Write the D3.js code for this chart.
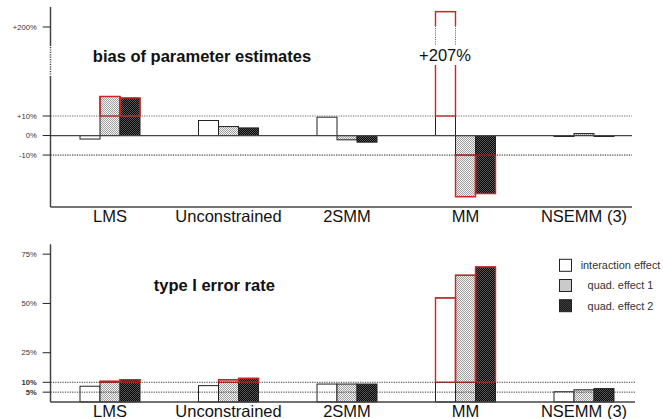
<!DOCTYPE html>
<html>
<head>
<meta charset="utf-8">
<script src="https://cdn.jsdelivr.net/npm/d3@7"></script>
<style>
  body { margin: 0; background: #fff; }
  svg { display: block; font-family: "Liberation Sans", Arial, sans-serif; }
</style>
</head>
<body>
<div id="chart"></div>
<script>
// ---- data (percent) ----
const methods = ["LMS", "Unconstrained", "2SMM", "MM", "NSEMM (3)"];
const effects = ["interaction effect", "quad. effect 1", "quad. effect 2"];

const biasInteraction = [-1.8, 7.7, 9.4, 207, -0.5];
const biasQuad1 = [20.0, 4.6, -2.2, -31.3, 1.0];
const biasQuad2 = [19.2, 3.9, -3.4, -29.7, -0.5];

const errInteraction = [8.0, 8.3, 9.1, 52.8, 5.2];
const errQuad1 = [10.5, 11.3, 9.1, 64.3, 6.2];
const errQuad2 = [11.3, 12.0, 9.1, 68.5, 6.8];

const biasTicks = [-10, 0, 10, 200];
const biasTickLabels = ["-10%", "0%", "+10%", "+200%"];
const errTicks = [5, 10, 25, 50, 75];
const errTickLabels = ["5%", "10%", "25%", "50%", "75%"];

const W = 663, H = 419;
const svg = d3.select("#chart").append("svg")
    .attr("width", W).attr("height", H);

// patterns for the quadratic effects
const defs = svg.append("defs");
function checker(id, a, b) {
    const p = defs.append("pattern").attr("id", id)
        .attr("width", 2).attr("height", 2)
        .attr("patternUnits", "userSpaceOnUse");
    p.append("rect").attr("width", 2).attr("height", 2).attr("fill", a);
    p.append("rect").attr("width", 1).attr("height", 1).attr("fill", b);
    p.append("rect").attr("x", 1).attr("y", 1).attr("width", 1).attr("height", 1).attr("fill", b);
}
checker("pq1", "#f4f4f4", "#a0a0a0");
checker("pq2", "#000", "#5a5a5a");
const fills = ["#fff", "url(#pq1)", "url(#pq2)"];

const x = d3.scalePoint().domain(methods).range([110, 584]);
const sub = d3.scaleBand().domain(effects).range([-30, 30]);
const xL = 50.5;

function rows(a, b, c) {
    const out = [];
    methods.forEach((m, i) => {
        [a, b, c].forEach((s, j) => out.push({m, e: effects[j], j, v: s[i]}));
    });
    return out;
}

// ---------- top panel: bias ----------
// broken axis: lower part linear, upper part around +200%
const yB = d3.scaleLinear()
    .domain([-36.6, 31, 190.9, 209.1])
    .range([207, 75, 47, 7]);
const breakTop = yB(190.9), breakBot = yB(31);

const topG = svg.append("g");
const biasData = rows(biasInteraction, biasQuad1, biasQuad2);

topG.selectAll(".bar").data(biasData).enter().append("rect")
    .attr("x", d => x(d.m) + sub(d.e))
    .attr("width", sub.bandwidth())
    .attr("y", d => yB(Math.max(0, d.v)))
    .attr("height", d => Math.abs(yB(d.v) - yB(0)))
    .attr("fill", d => fills[d.j])
    .attr("stroke", "#222").attr("stroke-width", 1);

const biasHi = biasData.filter(d => Math.abs(d.v) > 10);
topG.selectAll(".hi").data(biasHi).enter().append("rect")
    .attr("x", d => x(d.m) + sub(d.e))
    .attr("width", sub.bandwidth())
    .attr("y", d => d.v > 0 ? yB(d.v) : yB(-10))
    .attr("height", d => Math.abs(yB(d.v) - yB(d.v > 0 ? 10 : -10)))
    .attr("fill", "none")
    .attr("stroke", "#d42222").attr("stroke-width", 1.4);

// break across the tall bar
biasHi.filter(d => d.v > 31).forEach(d => {
    const bx = x(d.m) + sub(d.e), bw = sub.bandwidth();
    const c0 = yB(200.5), c1 = breakBot - 10;
    topG.append("rect").attr("x", bx - 2).attr("width", bw + 4)
        .attr("y", c0).attr("height", c1 - c0).attr("fill", "#fff");
    [bx, bx + bw].forEach(lx => topG.append("line")
        .attr("x1", lx).attr("x2", lx).attr("y1", c0).attr("y2", breakTop - 2)
        .attr("stroke", "#d42222").attr("stroke-width", 1)
        .attr("stroke-dasharray", "1,1.2"));
    topG.append("text").attr("x", bx + bw / 2 - 0.5).attr("y", 61)
        .attr("text-anchor", "middle").attr("font-size", 16.5).attr("fill", "#111")
        .text("+" + d.v + "%");
});

// threshold lines
[10, -10].forEach((t, i) => topG.append("line")
    .attr("x1", xL).attr("x2", 632).attr("y1", yB(t)).attr("y2", yB(t))
    .attr("stroke", i === 0 ? "#666" : "#111").attr("stroke-width", 1)
    .attr("stroke-dasharray", "1.2,1.2"));
topG.append("line").attr("x1", xL).attr("x2", 632)
    .attr("y1", yB(0)).attr("y2", yB(0)).attr("stroke", "#444").attr("stroke-width", 1.2);

// axes
topG.append("line").attr("x1", xL).attr("x2", 632).attr("y1", 207).attr("y2", 207)
    .attr("stroke", "#444").attr("stroke-width", 1.5);
topG.append("line").attr("x1", xL).attr("x2", xL).attr("y1", 7).attr("y2", breakTop - 1)
    .attr("stroke", "#444").attr("stroke-width", 1.5);
topG.append("line").attr("x1", xL).attr("x2", xL).attr("y1", breakTop).attr("y2", breakBot)
    .attr("stroke", "#444").attr("stroke-width", 1.5).attr("stroke-dasharray", "1.2,1.2");
topG.append("line").attr("x1", xL).attr("x2", xL).attr("y1", breakBot + 1).attr("y2", 207)
    .attr("stroke", "#444").attr("stroke-width", 1.5);

const bt = topG.selectAll(".tick").data(biasTicks).enter().append("g")
    .attr("transform", d => `translate(0,${yB(d)})`);
bt.append("line").attr("x1", 42.7).attr("x2", xL).attr("stroke", "#222").attr("stroke-width", 1);
bt.append("text").attr("x", 36.7).attr("dy", "0.33em").attr("text-anchor", "end")
    .attr("font-size", 7.6).attr("fill", "#333")
    .text((d, i) => biasTickLabels[i]);

topG.selectAll(".cat").data(methods).enter().append("text")
    .attr("x", d => x(d)).attr("y", 222).attr("text-anchor", "middle")
    .attr("font-size", 16.5).attr("fill", "#111").text(d => d);

topG.append("text").attr("x", 202).attr("y", 61.5).attr("text-anchor", "middle")
    .attr("font-size", 16.5).attr("font-weight", "bold").attr("fill", "#111")
    .text("bias of parameter estimates");

// ---------- bottom panel: type I error ----------
const yE = d3.scaleLinear().domain([0, 80]).range([402, 244.3]);
const botG = svg.append("g");
const errData = rows(errInteraction, errQuad1, errQuad2);

botG.selectAll(".bar").data(errData).enter().append("rect")
    .attr("x", d => x(d.m) + sub(d.e))
    .attr("width", sub.bandwidth())
    .attr("y", d => yE(d.v))
    .attr("height", d => yE(0) - yE(d.v))
    .attr("fill", d => fills[d.j])
    .attr("stroke", "#222").attr("stroke-width", 1);

botG.selectAll(".hi").data(errData.filter(d => d.v > 10)).enter().append("rect")
    .attr("x", d => x(d.m) + sub(d.e))
    .attr("width", sub.bandwidth())
    .attr("y", d => yE(d.v))
    .attr("height", d => yE(10) - yE(d.v))
    .attr("fill", "none")
    .attr("stroke", "#d42222").attr("stroke-width", 1.4);

[10, 5].forEach(t => botG.append("line")
    .attr("x1", xL).attr("x2", 635).attr("y1", yE(t)).attr("y2", yE(t))
    .attr("stroke", "#333").attr("stroke-width", 1)
    .attr("stroke-dasharray", "1.2,1.2"));

botG.append("line").attr("x1", xL).attr("x2", 635).attr("y1", 402).attr("y2", 402)
    .attr("stroke", "#444").attr("stroke-width", 1.5);
botG.append("line").attr("x1", xL).attr("x2", xL).attr("y1", 244.3).attr("y2", 402)
    .attr("stroke", "#444").attr("stroke-width", 1.5);

const et = botG.selectAll(".tick").data(errTicks).enter().append("g")
    .attr("transform", d => `translate(0,${yE(d)})`);
et.append("line").attr("x1", 42.7).attr("x2", xL).attr("stroke", "#222").attr("stroke-width", 1);
et.append("text").attr("x", 36.7).attr("dy", "0.33em").attr("text-anchor", "end")
    .attr("font-size", 7.6).attr("fill", "#333")
    .attr("font-weight", d => d <= 10 ? "bold" : "normal")
    .text((d, i) => errTickLabels[i]);

botG.selectAll(".cat").data(methods).enter().append("text")
    .attr("x", d => x(d)).attr("y", 417).attr("text-anchor", "middle")
    .attr("font-size", 16.5).attr("fill", "#111").text(d => d);

botG.append("text").attr("x", 214.3).attr("y", 291).attr("text-anchor", "middle")
    .attr("font-size", 16.5).attr("font-weight", "bold").attr("fill", "#111")
    .text("type I error rate");

// legend
const leg = botG.selectAll(".leg").data(effects).enter().append("g")
    .attr("transform", (d, i) => `translate(0,${265.3 + i * 20.2})`);
leg.append("rect").attr("x", 559.5).attr("y", -6).attr("width", 12).attr("height", 12)
    .attr("fill", (d, i) => fills[i]).attr("stroke", "#222").attr("stroke-width", 1);
leg.append("text").attr("x", 620.5).attr("dy", "0.35em").attr("text-anchor", "middle")
    .attr("font-size", 10.9).attr("fill", "#333").text(d => d);
</script>
</body>
</html>
